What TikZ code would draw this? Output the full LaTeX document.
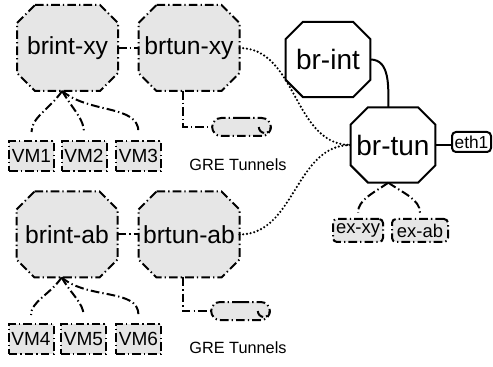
\documentclass[tikz,border=0pt]{standalone}
\usepackage{fontspec}
\setmainfont{Liberation Sans}
\usetikzlibrary{shapes.misc,backgrounds}
\definecolor{boxfill}{RGB}{230,230,230}
% Octagon outline around a rectangular node: #1 node name, #2 chamfer size
\newcommand\octagonpath[2]{%
  ([xshift=#2]#1.north west) -- ([xshift=-#2]#1.north east) --
  ([yshift=-#2]#1.north east) -- ([yshift=#2]#1.south east) --
  ([xshift=-#2]#1.south east) -- ([xshift=#2]#1.south west) --
  ([yshift=#2]#1.south west) -- ([yshift=-#2]#1.north west) -- cycle}
\tikzset{
  dashdot/.style={line width=1.5pt, dash pattern=on 6.5pt off 2.3pt on 1pt off 2.3pt},
  tunnelline/.style={line width=1.8pt, dash pattern=on 0pt off 2.8pt, line cap=round},
  solidline/.style={line width=1.5pt},
  octcore/.style={rectangle, inner sep=0pt, outer sep=0pt},
  bridge/.style={octcore, minimum width=75.75pt, minimum height=64.5pt,
    font=\fontsize{18.5}{20}\selectfont},
  mainbridge/.style={octcore, minimum width=63.5pt, minimum height=56.5pt,
    font=\fontsize{21}{24}\selectfont},
  bridgeoutline/.style={draw, dashdot, fill=boxfill},
  mainoutline/.style={draw, solidline, fill=white},
  vmbox/.style={rectangle, draw, dashdot, fill=boxfill,
    minimum width=33.75pt, minimum height=22.5pt, inner sep=0pt,
    font=\fontsize{14.25}{16}\selectfont},
  exbox/.style={rectangle, rounded corners=3pt, draw, dashdot, fill=boxfill,
    minimum height=17.25pt, inner sep=1pt,
    font=\fontsize{13.8}{15}\selectfont},
  portbox/.style={rectangle, rounded corners=3pt, draw, solidline, fill=white,
    minimum width=29.25pt, minimum height=15pt, inner sep=0pt,
    font=\fontsize{13}{14}\selectfont},
  grepipe/.style={rounded rectangle, draw, dashdot, fill=boxfill,
    minimum width=44pt, minimum height=13.5pt, inner sep=0pt},
  grelabel/.style={font=\fontsize{12.2}{14}\selectfont, inner sep=0pt, anchor=base},
}
\begin{document}
\begin{tikzpicture}[x=0.75pt, y=-0.75pt]
  \useasboundingbox (0,0) rectangle (493,367);

  % upper tenant: integration and tunnel bridges
  \node[bridge] (brintxy) at (67.5,48) {brint-xy};
  \node[bridge] (brtunxy) at (189,48) {brtun-xy};
  % lower tenant
  \node[bridge] (brintab) at (67,234.5) {brint-ab};
  \node[bridge] (brtunab) at (189,234.5) {brtun-ab};

  % host bridges
  \node[mainbridge] (brint) at (328,59.5) {br-int};
  \node[mainbridge] (brtun) at (393,145) {br-tun};

  \begin{scope}[on background layer]
    \path[bridgeoutline] \octagonpath{brintxy}{13.5pt};
    \path[bridgeoutline] \octagonpath{brtunxy}{13.5pt};
    \path[bridgeoutline] \octagonpath{brintab}{13.5pt};
    \path[bridgeoutline] \octagonpath{brtunab}{13.5pt};
    \path[mainoutline] \octagonpath{brint}{13pt};
    \path[mainoutline] \octagonpath{brtun}{13pt};
  \end{scope}

  \node[portbox] (eth1) at (471.5,142) {eth1};
  \node[exbox, minimum width=37.5pt] (exxy) at (358,230.5) {ex-xy};
  \node[exbox, minimum width=42pt] (exab) at (420,230.5) {ex-ab};

  % virtual machines
  \node[vmbox] (vm1) at (31.5,156) {VM1};
  \node[vmbox] (vm2) at (84,156) {VM2};
  \node[vmbox] (vm3) at (138.5,156) {VM3};
  \node[vmbox] (vm4) at (31,339) {VM4};
  \node[vmbox] (vm5) at (83.5,339) {VM5};
  \node[vmbox] (vm6) at (138.5,339) {VM6};

  % GRE tunnel endpoints
  \node[grepipe] (grexy) at (241.5,127) {};
  \node[grepipe] (greab) at (240.5,311) {};
  \draw[dashdot] ([xshift=-9.75pt]grexy.east) arc[start angle=180, end angle=360, radius=4.5pt];
  \draw[dashdot] ([xshift=-9.75pt]greab.east) arc[start angle=180, end angle=360, radius=4.5pt];
  \node[grelabel] (grexylabel) at (238,171) {GRE Tunnels};
  \node[grelabel] (greablabel) at (238,353) {GRE Tunnels};

  % patch links
  \draw[dashdot] (brintxy) -- (brtunxy);
  \draw[dashdot] (brintab) -- (brtunab);

  % VM attachments
  \draw[dashdot, shorten >=6pt] ([xshift=-4pt]brintxy.south) to[out=-125,in=90] (vm1.north);
  \draw[dashdot, shorten >=6pt] ([xshift=-4pt]brintxy.south) to[out=-60,in=90] (vm2.north);
  \draw[dashdot, shorten >=6pt] ([xshift=-4pt]brintxy.south) to[out=-40,in=90] (vm3.north);
  \draw[dashdot, shorten >=6pt] ([xshift=-4pt]brintab.south) to[out=-125,in=90] (vm4.north);
  \draw[dashdot, shorten >=6pt] ([xshift=-4pt]brintab.south) to[out=-60,in=90] (vm5.north);
  \draw[dashdot, shorten >=6pt] ([xshift=-4pt]brintab.south) to[out=-40,in=90] (vm6.north);

  % tunnel ports
  \draw[dashdot] ([xshift=-4.5pt]brtunxy.south) |- (grexy.west);
  \draw[dashdot] ([xshift=-4.5pt]brtunab.south) |- (greab.west);

  % overlay tunnels to br-tun
  \draw[tunnelline] (brtunxy.east) to[out=0,in=180] (brtun.west);
  \draw[tunnelline] (brtunab.east) to[out=0,in=180] (brtun.west);

  % host wiring
  \draw[solidline] (brint.east) to[out=0,in=90] ([xshift=-3.5pt]brtun.north);
  \draw[solidline] (brtun.east) -- (brtun.east -| eth1.west);
  \draw[dashdot, shorten >=4pt] ([xshift=-3.5pt]brtun.south) to[out=-145,in=90] (exxy.north);
  \draw[dashdot, shorten >=4pt] ([xshift=-3.5pt]brtun.south) to[out=-35,in=90] (exab.north);
\end{tikzpicture}
\end{document}
